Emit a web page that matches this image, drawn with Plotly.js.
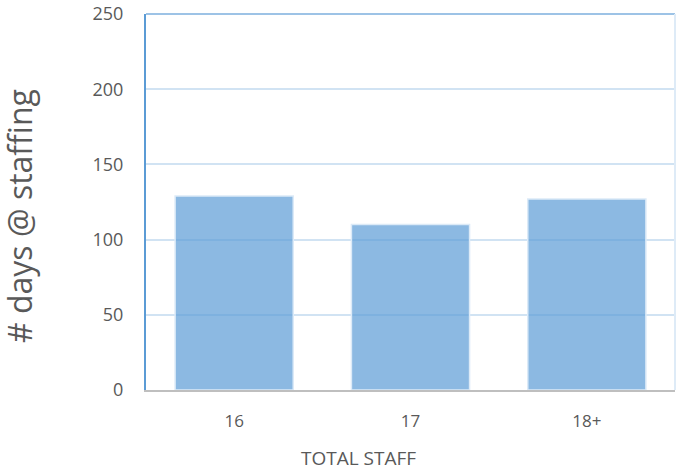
<!DOCTYPE html>
<html><head><meta charset="utf-8">
<script src="https://cdn.plot.ly/plotly-3.0.1.min.js"></script>
<style>html,body{margin:0;padding:0;background:#fff}#chart{width:676px;height:469px}</style>
</head><body><div id="chart"></div>
<script>
const categories = ["16", "17", "18+"];
const daysAtStaffing = [129, 110, 127];
const yTicks = [0, 50, 100, 150, 200, 250];
const xTitle = "TOTAL STAFF";
const yTitle = "# days @ staffing";

const font = "Open Sans, Liberation Sans, sans-serif";
Plotly.newPlot("chart", [{
  type: "bar",
  x: categories,
  y: daysAtStaffing,
  marker: {color: "rgba(91,155,213,0.7)", line: {color: "rgba(220,234,247,1)", width: 1.5}},
  hoverinfo: "none"
}], {
  width: 676, height: 469,
  margin: {l: 146, r: 1, t: 14, b: 79},
  paper_bgcolor: "#fff", plot_bgcolor: "#fff",
  bargap: 0.33,
  showlegend: false,
  xaxis: {
    type: "category",
    showgrid: false, zeroline: false,
    showline: true, linecolor: "#bfbfbf", linewidth: 2,
    ticks: "", ticklabelstandoff: 15,
    tickfont: {family: font, size: 17, color: "#595959"}
  },
  yaxis: {
    range: [0, 250], tickvals: yTicks,
    showgrid: true, gridcolor: "rgba(189,215,238,0.7)", gridwidth: 2,
    zeroline: false,
    showline: true, linecolor: "#5b9bd5", linewidth: 2,
    ticks: "", ticklabelstandoff: 17,
    tickfont: {family: font, size: 18, color: "#595959"}
  },
  annotations: [
    {text: xTitle, xref: "paper", yref: "paper", x: 0.401, y: -0.181, xanchor: "center", yanchor: "middle",
     showarrow: false, font: {family: font, size: 19, color: "#595959"}},
    {text: yTitle, xref: "paper", yref: "paper", x: -0.238, y: 0.463, xanchor: "center", yanchor: "middle",
     textangle: -90, showarrow: false, font: {family: font, size: 32, color: "#595959"}}
  ],
  shapes: [
    {type: "line", xref: "paper", yref: "paper", x0: 0, x1: 1, y0: 1, y1: 1, line: {color: "#9dc3e6", width: 2}},
    {type: "line", xref: "paper", yref: "paper", x0: 1, x1: 1, y0: 0, y1: 1, line: {color: "#deebf7", width: 2}}
  ]
}, {staticPlot: true});
</script></body></html>
